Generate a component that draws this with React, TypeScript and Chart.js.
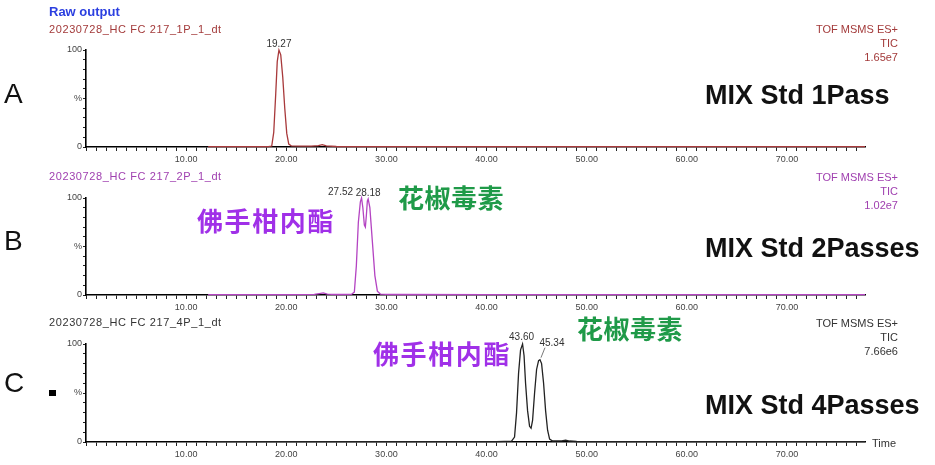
import React, { useEffect, useRef } from "react";
import { Chart, registerables } from "chart.js";

Chart.register(...registerables);

// ---------- data ----------
const xTickLabels = ["10.00", "20.00", "30.00", "40.00", "50.00", "60.00", "70.00"];

const timesA = [12.2, 15, 18.2, 18.55, 18.75, 18.95, 19.1, 19.27, 19.45, 19.65, 19.85, 20.05, 20.25, 20.5, 21.5, 22.5, 23.2, 23.6, 24.0, 25, 30, 40, 50, 60, 70, 77.8];
const valuesA = [0.3, 0.3, 0.4, 1, 15, 55, 88, 100, 95, 72, 40, 14, 3, 1.2, 1, 0.8, 1.5, 2.5, 1.2, 0.5, 0.4, 0.3, 0.3, 0.3, 0.3, 0.3];

const timesB = [12.2, 20, 22.8, 23.3, 23.7, 24.1, 25, 26.5, 26.8, 27.0, 27.2, 27.4, 27.52, 27.65, 27.8, 27.9, 28.0, 28.1, 28.18, 28.35, 28.6, 28.85, 29.1, 29.4, 30, 31, 40, 50, 60, 70, 77.8];
const valuesB = [0.3, 0.4, 0.6, 1.5, 2.2, 1, 0.5, 0.6, 3, 30, 75, 96, 100, 90, 72, 70, 82, 97, 99, 90, 55, 20, 4, 1, 0.6, 0.5, 0.4, 0.3, 0.3, 0.3, 0.3];

const timesC = [12.2, 30, 41, 42.5, 42.8, 43.0, 43.2, 43.4, 43.6, 43.75, 43.9, 44.1, 44.3, 44.45, 44.6, 44.8, 45.0, 45.2, 45.34, 45.5, 45.7, 45.9, 46.1, 46.3, 46.6, 47.5, 47.9, 48.3, 49, 60, 77.8];
const valuesC = [0.3, 0.3, 0.4, 0.8, 5, 30, 70, 94, 100, 88, 60, 32, 16, 14, 22, 50, 74, 83, 84, 80, 60, 32, 12, 3, 1, 1.2, 1.8, 1, 0.5, 0.3, 0.3];

const peakTimesA = [19.27];
const peakTextA = ["19.27"];
const peakTimesB = [27.52, 28.18];
const peakTextB = ["27.52", "28.18"];
const peakTimesC = [43.6, 45.34];
const peakTextC = ["43.60", "45.34"];

const fileNames = ["20230728_HC FC 217_1P_1_dt", "20230728_HC FC 217_2P_1_dt", "20230728_HC FC 217_4P_1_dt"];
const headerLines = [
  ["TOF MSMS ES+", "TIC", "1.65e7"],
  ["TOF MSMS ES+", "TIC", "1.02e7"],
  ["TOF MSMS ES+", "TIC", "7.66e6"],
];
const panelLetters = ["A", "B", "C"];
const panelTitles = ["MIX Std 1Pass", "MIX Std 2Passes", "MIX Std 4Passes"];
const compoundNames = ["佛手柑内酯", "花椒毒素"];

const FONT = '"Liberation Sans", Arial, Helvetica, sans-serif';
const CJK = '"Noto Sans CJK SC", "Noto Sans CJK TC", sans-serif';

// ---------- peak label plugin ----------
const peakLabelPlugin = {
  id: "peakLabels",
  afterDatasetsDraw(chart: any, _args: any, opts: any) {
    const items = (opts && opts.items) || [];
    const { ctx } = chart;
    const xs = chart.scales.x;
    const ys = chart.scales.y;
    items.forEach((it: any) => {
      const px = xs.getPixelForValue(it.t);
      const py = ys.getPixelForValue(it.v);
      const tx = px + it.dx;
      const ty = py + it.dy;
      ctx.save();
      ctx.font = `10px ${FONT}`;
      ctx.fillStyle = "#333";
      ctx.textAlign = "center";
      ctx.textBaseline = "alphabetic";
      ctx.fillText(it.text, tx, ty);
      if (it.leader) {
        ctx.strokeStyle = "#555";
        ctx.lineWidth = 0.8;
        ctx.beginPath();
        ctx.moveTo(px + 1, py - 2);
        ctx.lineTo(tx - 7, ty + 2);
        ctx.stroke();
      }
      ctx.restore();
    });
  },
};

type PanelProps = {
  top: number;
  height: number;
  padTop: number;
  times: number[];
  values: number[];
  color: string;
  peaks: any[];
};

function Panel({ top, height, padTop, times, values, color, peaks }: PanelProps) {
  const ref = useRef<HTMLCanvasElement | null>(null);
  useEffect(() => {
    if (!ref.current) return;
    const chart = new Chart(ref.current, {
      type: "line",
      data: {
        datasets: [
          {
            data: times.map((t, i) => ({ x: t, y: values[i] })),
            borderColor: color,
            borderWidth: 1.3,
            pointRadius: 0,
            tension: 0,
            fill: false,
            clip: 6,
          },
        ],
      },
      options: {
        animation: false,
        responsive: false,
        devicePixelRatio: 1,
        layout: { padding: { top: padTop, right: 70, left: 0, bottom: 0 } },
        plugins: {
          legend: { display: false },
          tooltip: { enabled: false },
          peakLabels: { items: peaks },
        } as any,
        scales: {
          x: {
            type: "linear",
            min: 0,
            max: 77.8,
            afterFit: (s: any) => {
              s.height = 23;
            },
            border: { display: true, color: "#000", width: 1.6 },
            grid: { drawOnChartArea: false, drawTicks: true, tickLength: 4, color: "#222", lineWidth: 1 },
            ticks: {
              stepSize: 1,
              autoSkip: false,
              includeBounds: false,
              maxRotation: 0,
              minRotation: 0,
              padding: 3,
              color: "#444",
              font: { family: FONT, size: 9 },
              callback: (v: any) => {
                const n = Math.round(Number(v));
                if (n > 0 && n % 10 === 0 && Math.abs(Number(v) - n) < 1e-6) {
                  return xTickLabels[n / 10 - 1] ?? "";
                }
                return "";
              },
            },
          },
          y: {
            type: "linear",
            min: 0,
            max: 100,
            afterFit: (s: any) => {
              s.width = 86;
            },
            border: { display: true, color: "#000", width: 1.6 },
            grid: { drawOnChartArea: false, drawTicks: true, tickLength: 3, color: "#222", lineWidth: 1 },
            ticks: {
              stepSize: 10,
              autoSkip: false,
              padding: 1,
              color: "#444",
              font: { family: FONT, size: 9 },
              callback: (v: any) => {
                const n = Number(v);
                if (n === 0) return "0";
                if (n === 50) return "%";
                if (n === 100) return "100";
                return "";
              },
            },
          },
        },
      },
      plugins: [peakLabelPlugin as any],
    });
    return () => chart.destroy();
  }, []);
  return (
    <canvas
      ref={ref}
      width={935}
      height={height}
      style={{ position: "absolute", left: 0, top, width: 935, height }}
    />
  );
}

const abs = (extra: React.CSSProperties): React.CSSProperties => ({
  position: "absolute",
  lineHeight: 1,
  whiteSpace: "nowrap",
  margin: 0,
  ...extra,
});

export default function App() {
  const panels = [
    {
      top: 0, height: 170, padTop: 50, times: timesA, values: valuesA, color: "#a8393b", textColor: "#a33a3a",
      peaks: peakTimesA.map((t, i) => ({ t, v: valuesA[timesA.indexOf(t)], text: peakTextA[i], dx: 0, dy: -3 })),
    },
    {
      top: 170, height: 148, padTop: 28, times: timesB, values: valuesB, color: "#b444c2", textColor: "#a040b0",
      peaks: peakTimesB.map((t, i) => ({ t, v: valuesB[timesB.indexOf(t)], text: peakTextB[i], dx: i === 0 ? -21 : 0, dy: -3 })),
    },
    {
      top: 318, height: 147, padTop: 26, times: timesC, values: valuesC, color: "#222222", textColor: "#333",
      peaks: peakTimesC.map((t, i) => ({ t, v: valuesC[timesC.indexOf(t)], text: peakTextC[i], dx: i === 0 ? -1 : 12, dy: i === 0 ? -4 : -14, leader: i === 1 })),
    },
  ];

  const fileTops = [23.5, 170.5, 316.5];
  const headerTops = [22, 170, 316];
  const letterTops = [80, 227, 369];
  const titleTops = [82, 235, 391.5];

  return (
    <div style={{ position: "fixed", left: 0, top: 0, width: 935, height: 465, background: "#fff", overflow: "hidden", fontFamily: FONT }}>
      {panels.map((p, i) => (
        <Panel key={i} top={p.top} height={p.height} padTop={p.padTop} times={p.times} values={p.values} color={p.color} peaks={p.peaks} />
      ))}

      <div style={abs({ left: 49, top: 4.5, fontSize: 13, fontWeight: 700, color: "#2b3fe0" })}>Raw output</div>

      {fileNames.map((f, i) => (
        <div key={"f" + i} style={abs({ left: 49, top: fileTops[i], fontSize: 11, letterSpacing: 0.6, color: panels[i].textColor })}>{f}</div>
      ))}

      {headerLines.map((lines, i) => (
        <div key={"h" + i} style={{ position: "absolute", right: 37, top: headerTops[i], fontSize: 11, lineHeight: "14px", textAlign: "right", color: panels[i].textColor, whiteSpace: "nowrap" }}>
          {lines.map((l, j) => (
            <div key={j}>{l}</div>
          ))}
        </div>
      ))}

      {panelLetters.map((l, i) => (
        <div key={"l" + i} style={abs({ left: 4, top: letterTops[i], fontSize: 28, color: "#111" })}>{l}</div>
      ))}

      {panelTitles.map((t, i) => (
        <div key={"t" + i} style={abs({ left: 705, top: titleTops[i], fontSize: 27, fontWeight: 700, color: "#111" })}>{t}</div>
      ))}

      <div style={abs({ left: 197, top: 207, fontSize: 26, fontFamily: CJK, fontWeight: 700, letterSpacing: 1.6, color: "#a030e8" })}>{compoundNames[0]}</div>
      <div style={abs({ left: 398, top: 184, fontSize: 26, fontFamily: CJK, fontWeight: 700, letterSpacing: 0.5, color: "#1f9a48" })}>{compoundNames[1]}</div>
      <div style={abs({ left: 373, top: 340, fontSize: 26, fontFamily: CJK, fontWeight: 700, letterSpacing: 1.6, color: "#a030e8" })}>{compoundNames[0]}</div>
      <div style={abs({ left: 577, top: 315, fontSize: 26, fontFamily: CJK, fontWeight: 700, letterSpacing: 0.5, color: "#1f9a48" })}>{compoundNames[1]}</div>

      <div style={{ position: "absolute", left: 49, top: 390, width: 7, height: 6, background: "#000" }} />

      <div style={abs({ left: 872, top: 438, fontSize: 11, color: "#333" })}>Time</div>
    </div>
  );
}
